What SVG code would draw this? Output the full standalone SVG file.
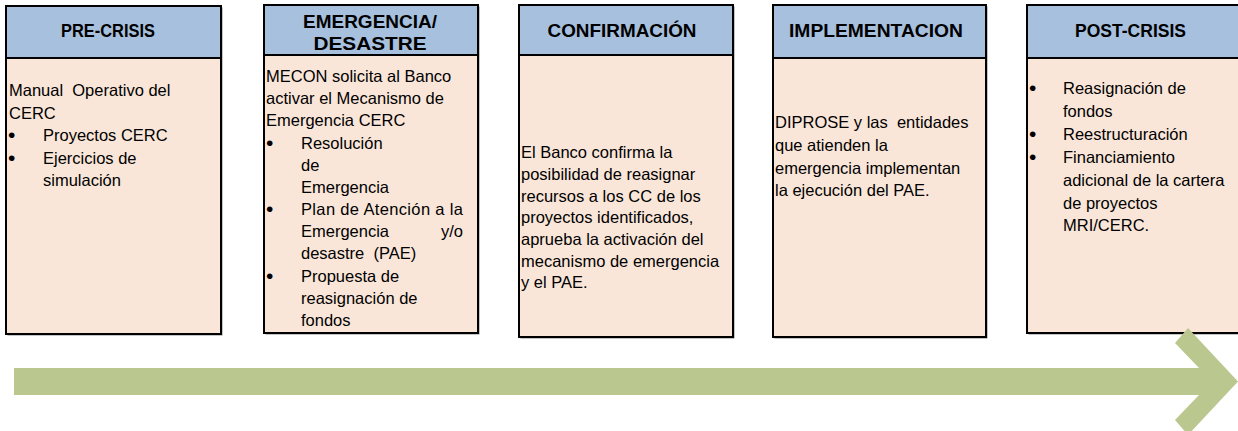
<svg xmlns="http://www.w3.org/2000/svg" width="1238" height="431" viewBox="0 0 1238 431">
<style>
.bg{fill:#ffffff}
.shadow{fill:#8a8a8a}
.body{fill:#FAE6D9;stroke:#000;stroke-width:2}
.head{fill:#A7C0DE;stroke:#000;stroke-width:2}
.ht{font-family:"Liberation Sans",Arial,sans-serif;font-weight:bold;font-size:18px;fill:#000;text-anchor:middle}
.t{font-family:"Liberation Sans",Arial,sans-serif;font-size:16.5px;fill:#000;white-space:pre}
.b{font-family:"Liberation Sans",Arial,sans-serif;font-size:21px;fill:#000}
.arrow{fill:#BAC78F}
</style>
<rect class="bg" x="0" y="0" width="1238" height="431"/>

<g id="node-precrisis">
<rect class="shadow" x="7.5" y="7.5" width="215" height="328"/>
<rect class="body" x="6" y="6" width="215" height="328"/>
<rect class="head" x="6" y="6" width="215" height="52"/>
<text class="ht" x="108" y="37" textLength="94" lengthAdjust="spacingAndGlyphs">PRE-CRISIS</text>
<text class="t" x="9" y="96" xml:space="preserve">Manual  Operativo del</text>
<text class="t" x="9" y="118.5">CERC</text>
<text class="b" x="8" y="142">•</text>
<text class="t" x="43" y="141">Proyectos CERC</text>
<text class="b" x="8" y="164.5">•</text>
<text class="t" x="43" y="163.5">Ejercicios de</text>
<text class="t" x="43" y="186">simulación</text>
</g>

<g id="node-emergencia">
<rect class="shadow" x="265.5" y="6.5" width="214" height="328"/>
<rect class="body" x="264" y="5" width="214" height="328"/>
<rect class="head" x="264" y="5" width="214" height="50"/>
<text class="ht" x="370" y="28" textLength="134" lengthAdjust="spacingAndGlyphs">EMERGENCIA/</text>
<text class="ht" x="370" y="50" textLength="113" lengthAdjust="spacingAndGlyphs">DESASTRE</text>
<text class="t" x="266" y="82">MECON solicita al Banco</text>
<text class="t" x="266" y="104">activar el Mecanismo de</text>
<text class="t" x="266" y="126">Emergencia CERC</text>
<text class="b" x="266" y="149.5">•</text>
<text class="t" x="301" y="148.5">Resolución</text>
<text class="t" x="301" y="170.5">de</text>
<text class="t" x="301" y="192.5">Emergencia</text>
<text class="b" x="266" y="216">•</text>
<text class="t" x="301" y="215" textLength="162" lengthAdjust="spacing">Plan de Atención a la</text>
<text class="t" x="301" y="237">Emergencia</text>
<text class="t" x="463" y="237" text-anchor="end">y/o</text>
<text class="t" x="301" y="259" xml:space="preserve">desastre  (PAE)</text>
<text class="b" x="266" y="282.5">•</text>
<text class="t" x="301" y="281.5">Propuesta de</text>
<text class="t" x="301" y="303.5">reasignación de</text>
<text class="t" x="301" y="326">fondos</text>
</g>

<g id="node-confirmacion">
<rect class="shadow" x="520.5" y="6.5" width="214" height="332"/>
<rect class="body" x="519" y="5" width="214" height="332"/>
<rect class="head" x="519" y="5" width="214" height="50"/>
<text class="ht" x="622" y="37" textLength="149" lengthAdjust="spacingAndGlyphs">CONFIRMACIÓN</text>
<text class="t" x="521" y="158">El Banco confirma la</text>
<text class="t" x="521" y="180">posibilidad de reasignar</text>
<text class="t" x="521" y="201.5">recursos a los CC de los</text>
<text class="t" x="521" y="223">proyectos identificados,</text>
<text class="t" x="521" y="245">aprueba la activación del</text>
<text class="t" x="521" y="266.5">mecanismo de emergencia</text>
<text class="t" x="521" y="288">y el PAE.</text>
</g>

<g id="node-implementacion">
<rect class="shadow" x="774.5" y="6.5" width="213" height="332"/>
<rect class="body" x="773" y="5" width="213" height="332"/>
<rect class="head" x="773" y="5" width="213" height="53"/>
<text class="ht" x="876" y="37" textLength="174" lengthAdjust="spacingAndGlyphs">IMPLEMENTACION</text>
<text class="t" x="775" y="128" xml:space="preserve">DIPROSE y las  entidades</text>
<text class="t" x="775" y="151">que atienden la</text>
<text class="t" x="775" y="173.5">emergencia implementan</text>
<text class="t" x="775" y="196">la ejecución del PAE.</text>
</g>

<g id="node-postcrisis">
<rect class="shadow" x="1028.5" y="6.5" width="214" height="328"/>
<rect class="body" x="1027" y="5" width="214" height="328"/>
<rect class="head" x="1027" y="5" width="214" height="53"/>
<text class="ht" x="1130.5" y="37" textLength="111" lengthAdjust="spacingAndGlyphs">POST-CRISIS</text>
<text class="b" x="1029" y="95">•</text>
<text class="t" x="1063" y="94">Reasignación de</text>
<text class="t" x="1063" y="116.5">fondos</text>
<text class="b" x="1029" y="140.5">•</text>
<text class="t" x="1063" y="139.5">Reestructuración</text>
<text class="b" x="1029" y="163.5">•</text>
<text class="t" x="1063" y="162.5">Financiamiento</text>
<text class="t" x="1063" y="186">adicional de la cartera</text>
<text class="t" x="1063" y="209">de proyectos</text>
<text class="t" x="1063" y="231">MRI/CERC.</text>
</g>

<g id="connectors">
<polygon class="arrow" points="14,368 1199,368 1175,343 1188,328 1238,381.5 1188,435 1175,420 1199,395 14,395"/>
</g>
</svg>
